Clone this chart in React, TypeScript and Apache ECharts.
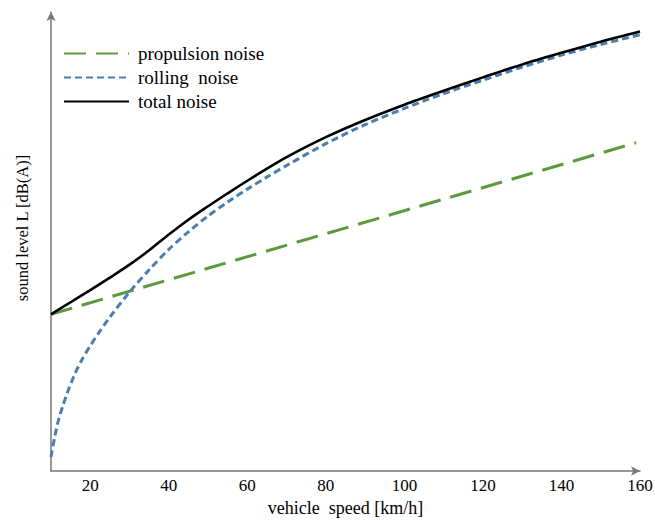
import React, { useEffect, useRef } from "react";
import * as echarts from "echarts";

// x tick labels shown on the speed axis
const tickLabels = [20, 40, 60, 80, 100, 120, 140, 160];

// propulsion noise (straight dashed line)
const propulsionSpeed = [10, 159];
const propulsionLevel = [33.8, 70.8];

// rolling noise
const rollingSpeed = [10, 11, 12, 13, 14, 16, 18, 20, 22, 25, 30, 35, 40, 45, 50, 55, 60, 65, 70, 80, 90, 100, 110, 120, 130, 140, 150, 160];
const rollingLevel = [3.0, 7.6, 11.3, 14.0, 16.5, 20.8, 24.2, 27.0, 29.6, 33.2, 38.6, 43.4, 47.8, 51.6, 55.0, 58.0, 60.8, 63.4, 65.9, 70.6, 74.7, 78.2, 81.4, 84.3, 87.1, 89.7, 92.0, 94.1];

// total noise
const totalSpeed = [10, 15, 20, 25, 30, 35, 40, 45, 50, 55, 60, 65, 70, 80, 90, 100, 110, 120, 130, 140, 150, 160];
const totalLevel = [33.8, 36.4, 39.0, 41.7, 44.5, 47.6, 51.0, 54.2, 57.1, 59.9, 62.6, 65.2, 67.7, 72.0, 75.7, 79.0, 82.0, 84.9, 87.7, 90.2, 92.6, 94.8];

const pairs = (xs: number[], ys: number[]) => xs.map((x, i) => [x, ys[i]]);

export default function App() {
  const ref = useRef<HTMLDivElement>(null);
  useEffect(() => {
    const chart = echarts.init(ref.current!, null, { renderer: "svg" });
    const font = "'Liberation Serif', 'Times New Roman', serif";
    const green = "#5e9a3d";
    const blue = "#4a7eb0";
    const axisColor = "#777777";
    const clear = "rgba(0,0,0,0)";
    chart.setOption({
      animation: false,
      backgroundColor: "#ffffff",
      grid: { left: 51, right: 15, top: 12, bottom: 50, containLabel: false, outerBoundsMode: "none" },
      legend: {
        orient: "vertical",
        left: 58,
        top: 39,
        itemWidth: 65,
        itemHeight: 14,
        itemGap: 5,
        itemStyle: { opacity: 0 },
        textStyle: { fontFamily: font, fontSize: 19, color: "#000", lineHeight: 18, padding: [0, 0, 0, 4] },
        data: ["propulsion noise", "rolling  noise", "total noise"],
      },
      xAxis: {
        type: "value",
        min: 10,
        max: 160,
        interval: 10,
        name: "vehicle  speed [km/h]",
        nameLocation: "middle",
        nameGap: 26,
        nameTextStyle: { fontFamily: font, fontSize: 18, color: "#000" },
        axisLine: {
          show: true,
          symbol: ["none", "arrow"],
          symbolSize: [7, 9],
          lineStyle: { color: axisColor, width: 1.5 },
        },
        axisTick: { show: false },
        splitLine: { show: false },
        axisLabel: {
          margin: 6,
          fontFamily: font,
          fontSize: 17,
          color: "#000",
          formatter: (v: number) => (tickLabels.includes(v) ? String(v) : ""),
        },
      },
      yAxis: {
        type: "value",
        min: 0,
        max: 99,
        axisLine: {
          show: true,
          symbol: ["none", "arrow"],
          symbolSize: [7, 9],
          lineStyle: { color: axisColor, width: 1.5 },
        },
        axisTick: { show: false },
        axisLabel: { show: false },
        splitLine: { show: false },
      },
      graphic: [
        {
          type: "text",
          x: 22,
          y: 228,
          rotation: Math.PI / 2,
          style: {
            text: "sound level L [dB(A)]",
            font: "16.5px 'Liberation Serif', serif",
            fill: "#000",
            textAlign: "center",
            textVerticalAlign: "middle",
          },
        },
      ],
      series: [
        {
          name: "propulsion noise",
          type: "line",
          data: pairs(propulsionSpeed, propulsionLevel),
          symbol: "none",
          lineStyle: { color: green, width: 3, type: [22, 10] },
          itemStyle: { color: clear },
          z: 2,
        },
        {
          name: "rolling  noise",
          type: "line",
          data: pairs(rollingSpeed, rollingLevel),
          symbol: "none",
          smooth: 0.3,
          lineStyle: { color: blue, width: 3, type: [7, 4] },
          itemStyle: { color: clear },
          z: 3,
        },
        {
          name: "total noise",
          type: "line",
          data: pairs(totalSpeed, totalLevel),
          symbol: "none",
          smooth: 0.3,
          lineStyle: { color: "#000", width: 2.6 },
          itemStyle: { color: clear },
          z: 4,
        },
      ],
    });
    return () => chart.dispose();
  }, []);
  return <div ref={ref} style={{ position: "absolute", left: 0, top: 0, width: 655, height: 521 }} />;
}
